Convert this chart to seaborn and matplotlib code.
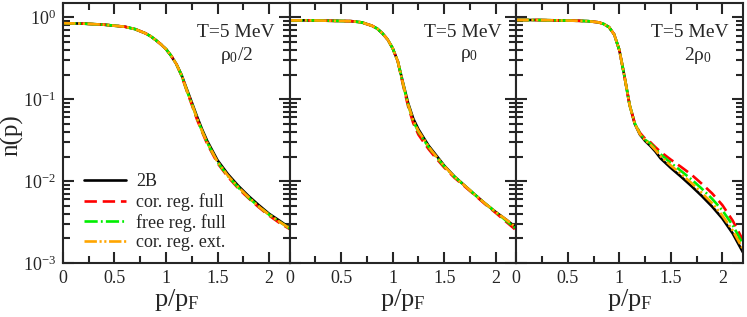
import numpy as np
import pandas as pd
import matplotlib
matplotlib.use("Agg")
import matplotlib.pyplot as plt
import seaborn as sns
from matplotlib.ticker import LogLocator, MultipleLocator, NullFormatter

# ---------------- data ----------------
p = [0, 0.2, 0.4, 0.6, 0.7, 0.8, 0.85, 0.9, 0.95, 1.0, 1.05, 1.1, 1.15, 1.2,
     1.25, 1.3, 1.35, 1.4, 1.5, 1.6, 1.7, 1.8, 1.9, 2.0, 2.1, 2.2]

series_names = ["2B", "cor. reg. full", "free reg. full", "cor. reg. ext."]

# panel 1: rho0/2
half_2B   = [0.85, 0.84, 0.815, 0.77, 0.72, 0.64, 0.59, 0.53, 0.47, 0.41, 0.34, 0.27, 0.20, 0.135,
             0.092, 0.062, 0.043, 0.031, 0.018, 0.0122, 0.0088, 0.0066, 0.0051, 0.0040, 0.0033, 0.0027]
half_cor  = [0.85, 0.84, 0.815, 0.77, 0.72, 0.64, 0.59, 0.53, 0.47, 0.41, 0.34, 0.27, 0.195, 0.128,
             0.086, 0.057, 0.040, 0.0285, 0.0166, 0.0113, 0.0082, 0.0062, 0.0048, 0.0038, 0.0031, 0.0026]
half_free = [0.85, 0.84, 0.815, 0.77, 0.72, 0.64, 0.59, 0.53, 0.47, 0.41, 0.34, 0.27, 0.197, 0.130,
             0.088, 0.059, 0.041, 0.0295, 0.0171, 0.0116, 0.0084, 0.0063, 0.0049, 0.0039, 0.0032, 0.00265]
half_ext  = [0.85, 0.84, 0.815, 0.77, 0.72, 0.64, 0.59, 0.53, 0.47, 0.41, 0.34, 0.27, 0.198, 0.131,
             0.089, 0.059, 0.041, 0.0297, 0.0172, 0.0117, 0.0085, 0.0064, 0.0049, 0.0039, 0.0032, 0.00265]

# panel 2: rho0
one_2B    = [0.92, 0.92, 0.91, 0.90, 0.87, 0.79, 0.73, 0.64, 0.54, 0.42, 0.29, 0.16, 0.090, 0.058,
             0.043, 0.034, 0.027, 0.0225, 0.0155, 0.0114, 0.0088, 0.0068, 0.0053, 0.0042, 0.0034, 0.0027]
one_cor   = [0.92, 0.92, 0.91, 0.90, 0.87, 0.79, 0.73, 0.64, 0.54, 0.42, 0.29, 0.15, 0.082, 0.051,
             0.037, 0.030, 0.0245, 0.0205, 0.0147, 0.0110, 0.0086, 0.0067, 0.0052, 0.0041, 0.0032, 0.0025]
one_free  = [0.92, 0.92, 0.91, 0.90, 0.87, 0.79, 0.73, 0.64, 0.54, 0.42, 0.29, 0.155, 0.086, 0.054,
             0.040, 0.032, 0.026, 0.0215, 0.0152, 0.0113, 0.0088, 0.0068, 0.0053, 0.0042, 0.0033, 0.0026]
one_ext   = [0.92, 0.92, 0.91, 0.90, 0.87, 0.79, 0.73, 0.64, 0.54, 0.42, 0.29, 0.157, 0.087, 0.055,
             0.041, 0.033, 0.0262, 0.0218, 0.0153, 0.0113, 0.0088, 0.0068, 0.0053, 0.0042, 0.0034, 0.0027]

# panel 3: 2 rho0
two_2B    = [0.93, 0.93, 0.92, 0.91, 0.90, 0.87, 0.83, 0.76, 0.62, 0.40, 0.19, 0.085, 0.050, 0.037,
             0.031, 0.027, 0.023, 0.019, 0.0145, 0.0113, 0.0087, 0.0066, 0.0049, 0.0035, 0.0023, 0.00135]
two_cor   = [0.93, 0.93, 0.92, 0.91, 0.90, 0.87, 0.83, 0.76, 0.62, 0.40, 0.19, 0.085, 0.051, 0.039,
             0.033, 0.030, 0.026, 0.0228, 0.0183, 0.0149, 0.0120, 0.0093, 0.0071, 0.0051, 0.0033, 0.0019]
two_free  = [0.93, 0.93, 0.92, 0.91, 0.90, 0.87, 0.83, 0.76, 0.62, 0.40, 0.19, 0.085, 0.051, 0.038,
             0.032, 0.0289, 0.025, 0.0213, 0.0167, 0.0133, 0.0105, 0.0081, 0.0061, 0.0044, 0.0029, 0.0017]
two_ext   = [0.93, 0.93, 0.92, 0.91, 0.90, 0.87, 0.83, 0.76, 0.62, 0.40, 0.19, 0.085, 0.050, 0.0375,
             0.0315, 0.028, 0.024, 0.0202, 0.0155, 0.0122, 0.0095, 0.0072, 0.0054, 0.0038, 0.0025, 0.00148]

panels = [
    ("ρ$_0$/2", [half_2B, half_cor, half_free, half_ext]),
    ("ρ$_0$",   [one_2B, one_cor, one_free, one_ext]),
    ("2ρ$_0$",  [two_2B, two_cor, two_free, two_ext]),
]

xticks = [0, 0.5, 1, 1.5, 2]
xtick_labels = ["0", "0.5", "1", "1.5", "2"]

# ---------------- style ----------------
sns.set_style("ticks")
plt.rcParams["font.family"] = ["Liberation Serif", "DejaVu Serif"]
plt.rcParams["mathtext.fontset"] = "custom"
plt.rcParams["mathtext.rm"] = "Liberation Serif"
plt.rcParams["mathtext.it"] = "Liberation Serif:italic"
plt.rcParams["mathtext.bf"] = "Liberation Serif:bold"
plt.rcParams["axes.linewidth"] = 1.5
plt.rcParams["axes.unicode_minus"] = False

colors = ["black", "#ff0000", "#00ee00", "#ffa500"]
styles = ["-", (0, (4.7, 2.2)), (0, (5, 1.2, 0.7, 1.2)), (0, (4.7, 1.0, 0.8, 1.0, 0.8, 1.0))]

fig, axes = plt.subplots(1, 3, figsize=(7.47, 3.17), dpi=100, sharey=True)
fig.subplots_adjust(left=0.0843, right=0.9946, top=0.9905, bottom=0.1703, wspace=0)

text_x2 = [0.765, 0.79, 0.80]

for i, (ax, (dens, vals)) in enumerate(zip(axes, panels)):
    for name, v, c, ls in zip(series_names, vals, colors, styles):
        df = pd.DataFrame({"p": p, "n": v})
        sns.lineplot(data=df, x="p", y="n", ax=ax, color=c, lw=1.9, linestyle=ls,
                     label=name if i == 0 else None, legend=False)
    ax.set_yscale("log")
    ax.set_xlim(0, 2.2)
    ax.set_ylim(1e-3, 1.5)
    ax.set_xticks(xticks)
    ax.set_xticklabels(xtick_labels)
    ax.xaxis.set_minor_locator(MultipleLocator(0.25))
    ax.yaxis.set_major_locator(LogLocator(base=10, numticks=10))
    ax.yaxis.set_minor_locator(LogLocator(base=10, subs=np.arange(2, 10), numticks=20))
    ax.yaxis.set_minor_formatter(NullFormatter())
    ax.tick_params(which="both", direction="in", top=True, right=True, width=1.5,
                   labelsize=13, pad=5)
    ax.tick_params(which="major", length=8)
    ax.tick_params(which="minor", length=5)
    ax.set_xlabel("p/p$_\\mathrm{F}$", fontsize=19, labelpad=0)
    if i == 0:
        ax.set_ylabel("n(p)", fontsize=18)
        ax.yaxis.set_label_coords(-0.175, 0.49)
    else:
        ax.set_ylabel("")
    ax.text(0.935, 0.885, "T=5 MeV", transform=ax.transAxes, ha="right", va="center", fontsize=14)
    ax.text(text_x2[i], 0.80, dens, transform=ax.transAxes, ha="center", va="center", fontsize=14)

axes[0].legend(loc="lower left", bbox_to_anchor=(0.093, 0.045), frameon=False, fontsize=13,
               handlelength=2.3, handletextpad=0.6, labelspacing=0.15, borderaxespad=0,
               borderpad=0)

fig.savefig("out.png", dpi=100)
